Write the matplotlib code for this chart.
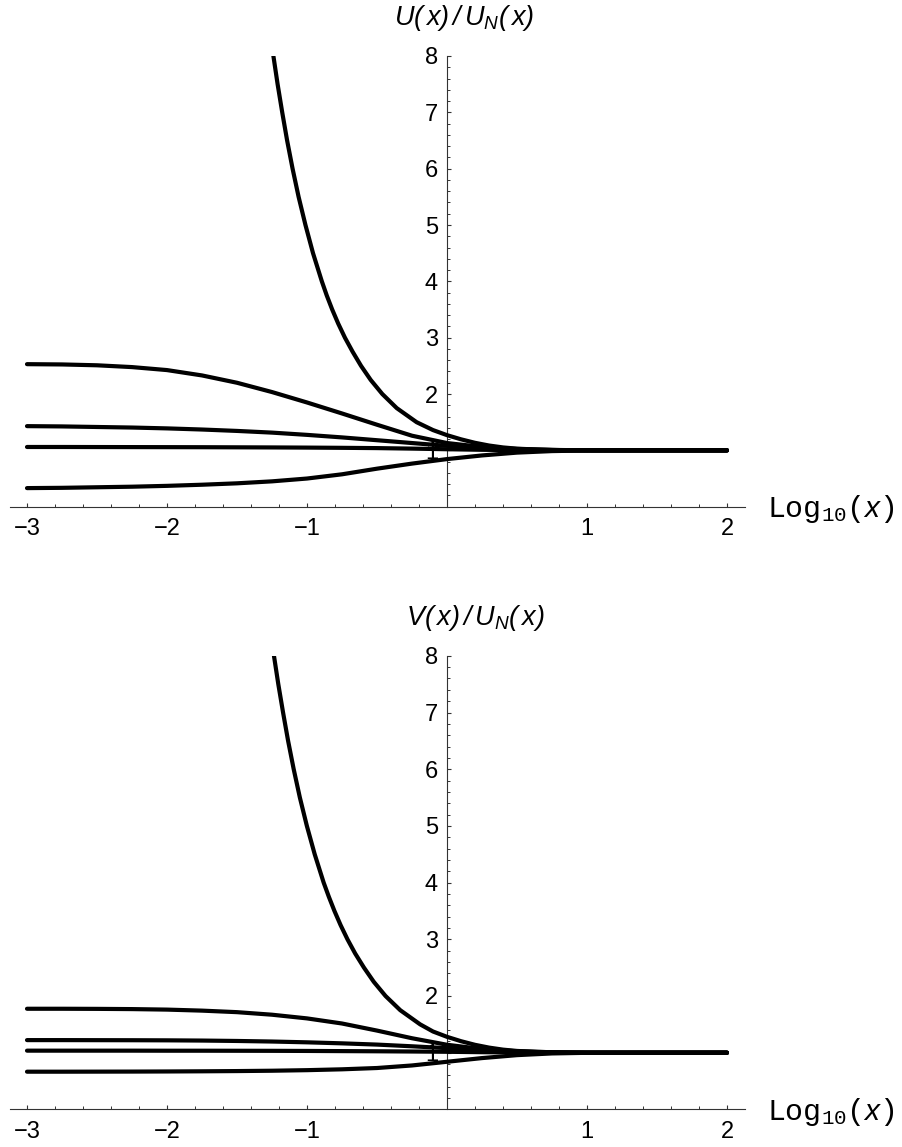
import matplotlib
matplotlib.use('Agg')
import matplotlib.pyplot as plt
from matplotlib.ticker import FixedLocator, FixedFormatter, MultipleLocator

# ---------------- data ----------------
x_grid = [-3, -2.75, -2.5, -2.25, -2, -1.75, -1.5, -1.25, -1, -0.75, -0.5, -0.25,
          0, 0.25, 0.5, 0.75, 1, 1.5, 2]

# top panel U(x)/U_N(x)
u_b = [2.53, 2.525, 2.51, 2.478, 2.425, 2.33, 2.20, 2.035, 1.85, 1.655, 1.455, 1.26,
       1.13, 1.06, 1.025, 1.008, 1.0, 1.0, 1.0]
u_c = [1.43, 1.425, 1.415, 1.405, 1.39, 1.37, 1.345, 1.315, 1.275, 1.23, 1.18, 1.13,
       1.08, 1.04, 1.015, 1.005, 1.0, 1.0, 1.0]
u_d = [1.06, 1.06, 1.059, 1.058, 1.057, 1.056, 1.054, 1.052, 1.049, 1.045, 1.04, 1.031,
       1.02, 1.01, 1.004, 1.001, 1.0, 1.0, 1.0]
u_e = [0.33, 0.335, 0.345, 0.355, 0.37, 0.39, 0.415, 0.45, 0.50, 0.575, 0.675, 0.765,
       0.845, 0.91, 0.96, 0.987, 0.998, 1.0, 1.0]
ua_x = [-1.240, -1.210, -1.177, -1.142, -1.103, -1.060, -1.011, -0.957, -0.894, -0.859,
        -0.820, -0.777, -0.729, -0.674, -0.614, -0.545, -0.462, -0.359, -0.217, -0.1, 0,
        0.1, 0.2, 0.3, 0.4, 0.5, 0.65, 0.8, 1, 1.25, 2]
ua_y = [8, 7.5, 7, 6.5, 6, 5.5, 5, 4.5, 4, 3.75, 3.5, 3.25, 3, 2.75, 2.5, 2.25, 2, 1.75,
        1.5, 1.36, 1.27, 1.196, 1.134, 1.086, 1.052, 1.03, 1.014, 1.005, 1.0015, 1, 1]

# bottom panel V(x)/U_N(x)
v_b = [1.775, 1.775, 1.773, 1.769, 1.76, 1.742, 1.715, 1.67, 1.605, 1.515, 1.39, 1.255,
       1.14, 1.065, 1.025, 1.008, 1.0, 1.0, 1.0]
v_c = [1.222, 1.222, 1.221, 1.22, 1.218, 1.214, 1.207, 1.197, 1.183, 1.165, 1.143, 1.113,
       1.08, 1.045, 1.018, 1.005, 1.0, 1.0, 1.0]
v_d = [1.036, 1.036, 1.036, 1.036, 1.035, 1.035, 1.034, 1.033, 1.031, 1.028, 1.025, 1.021,
       1.016, 1.009, 1.004, 1.001, 1.0, 1.0, 1.0]
v_e = [0.665, 0.665, 0.666, 0.667, 0.669, 0.672, 0.676, 0.682, 0.692, 0.707, 0.73, 0.775,
       0.84, 0.905, 0.957, 0.987, 0.998, 1.0, 1.0]
va_x = [-1.236, -1.205, -1.171, -1.135, -1.095, -1.051, -1.001, -0.945, -0.881, -0.844,
        -0.804, -0.760, -0.711, -0.656, -0.593, -0.523, -0.439, -0.334, -0.192, -0.1, 0,
        0.1, 0.2, 0.3, 0.4, 0.5, 0.65, 0.8, 1, 1.25, 2]
va_y = [8, 7.5, 7, 6.5, 6, 5.5, 5, 4.5, 4, 3.75, 3.5, 3.25, 3, 2.75, 2.5, 2.25, 2, 1.75,
        1.5, 1.374, 1.28, 1.203, 1.139, 1.09, 1.054, 1.031, 1.014, 1.0055, 1.0015, 1, 1]

x_ticks = [-3, -2, -1, 1, 2]
x_tick_labels = ['\u22123', '\u22122', '\u22121', '1', '2']
y_ticks = [1, 2, 3, 4, 5, 6, 7, 8]
y_tick_labels = ['1', '2', '3', '4', '5', '6', '7', '8']

top_ylabel = r'$\mathsf{U(\,x)\,/\,U_N(\,x)}$'
bot_ylabel = r'$\mathsf{V(\,x)\,/\,U_N(\,x)}$'
xlabel = r'$\mathrm{Log}_{\mathrm{10}}\mathrm{(}x\mathrm{)}$'

# ---------------- style ----------------
plt.rcParams['font.family'] = ['Liberation Sans', 'DejaVu Sans']
plt.rcParams['mathtext.fontset'] = 'custom'
plt.rcParams['mathtext.rm'] = 'Liberation Mono'
plt.rcParams['mathtext.it'] = 'Liberation Sans:italic'
plt.rcParams['mathtext.sf'] = 'Liberation Sans:italic'

W, H = 902, 1147
fig = plt.figure(figsize=(W / 100, H / 100), dpi=100)

AX_COL = '#333333'
LW = 3.0


def make_axes(y0_px, y8_px):
    left = 10.2 / W
    width = 735.0 / W
    bottom = (H - y0_px) / H
    height = (y0_px - y8_px) / H
    return fig.add_axes([left, bottom, width, height])


def style(ax):
    ax.set_xlim(-3.12, 2.13)
    ax.set_ylim(0, 8)
    ax.patch.set_alpha(0)
    for s in ['top', 'right']:
        ax.spines[s].set_visible(False)
    ax.spines['left'].set_position(('data', 0))
    for s in ['left', 'bottom']:
        ax.spines[s].set_color(AX_COL)
        ax.spines[s].set_linewidth(0.8)
    ax.xaxis.set_major_locator(FixedLocator(x_ticks))
    ax.xaxis.set_major_formatter(FixedFormatter(x_tick_labels))
    ax.xaxis.set_minor_locator(MultipleLocator(0.2))
    ax.yaxis.set_major_locator(FixedLocator(y_ticks))
    ax.yaxis.set_major_formatter(FixedFormatter(y_tick_labels))
    ax.yaxis.set_minor_locator(MultipleLocator(0.2))
    ax.tick_params(axis='both', which='major', direction='in', length=3.0, width=0.8,
                   color=AX_COL, labelsize=17)
    ax.tick_params(axis='both', which='minor', direction='in', length=1.9, width=0.7,
                   color=AX_COL)
    ax.tick_params(axis='x', which='major', pad=8)
    ax.tick_params(axis='y', which='major', pad=6.5)


def draw(ax, xa, ya, ys, ylabel, ylab_x, ylab_y):
    style(ax)
    for yy in ys:
        ax.plot(x_grid, yy, color='black', lw=LW, solid_capstyle='round',
                solid_joinstyle='round', zorder=3)
    ax.plot(xa, ya, color='black', lw=LW, solid_capstyle='round',
            solid_joinstyle='round', zorder=3)
    ax.text(ylab_x, ylab_y, ylabel, fontsize=19.5, ha='center', va='baseline',
            clip_on=False)
    ax.text(2.284, -0.18, xlabel, fontsize=21.5, ha='left', va='baseline',
            clip_on=False)


ax1 = make_axes(506.7, 56.0)
draw(ax1, ua_x, ua_y, [u_b, u_c, u_d, u_e], top_ylabel, 0.12, 8.55)

ax2 = make_axes(1109.4, 655.8)
draw(ax2, va_x, va_y, [v_b, v_c, v_d, v_e], bot_ylabel, 0.2, 8.55)

fig.savefig('out.png', dpi=100)
